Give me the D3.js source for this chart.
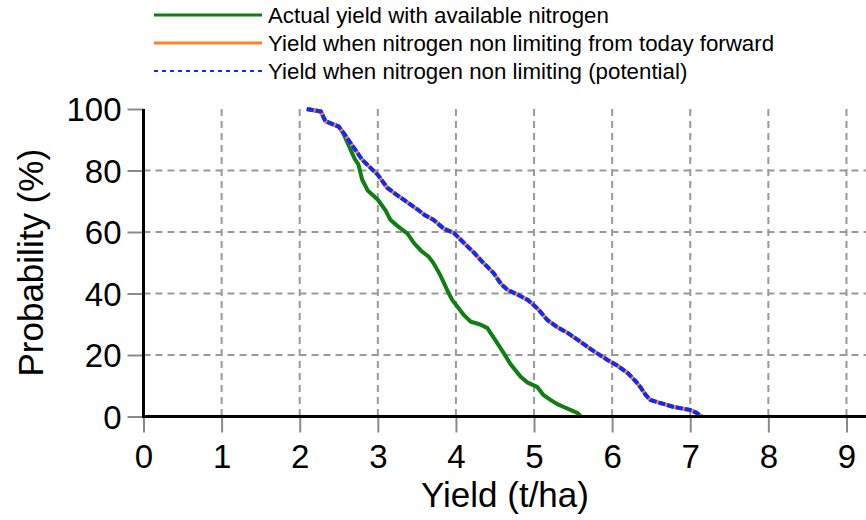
<!DOCTYPE html>
<html lang="en">
  <head>
    <meta charset="UTF-8" />
    <title>Yield probability</title>
    <script src="https://d3js.org/d3.v7.min.js"></script>
    <style>
      body {
        margin: 0;
        padding: 0;
        background: #ffffff;
        font-family: "Liberation Sans", Arial, sans-serif;
      }
      .grid line {
        stroke: #9a9a9a;
        stroke-width: 2;
        stroke-dasharray: 7, 5;
      }
    </style>
  </head>
  <body>
    <div id="chart"></div>
    <script>
      const width = 866;
      const height = 520;

      // yield (t/ha) vs probability of exceeding (%)
      const actualYield = [2.09, 2.27, 2.33, 2.5, 2.56, 2.63, 2.7, 2.75, 2.8, 2.87, 3.0, 3.1, 3.16, 3.25, 3.38, 3.46, 3.55, 3.65, 3.71, 3.8, 3.89, 3.95, 4.02, 4.1, 4.19, 4.3, 4.4, 4.5, 4.61, 4.7, 4.83, 4.92, 5.04, 5.12, 5.21, 5.3, 5.38, 5.48, 5.56, 5.6];
      const actualProb = [100, 99.2, 96, 94.3, 92, 88, 84, 82, 77, 73.5, 70.5, 67, 64, 62, 59.5, 56.5, 54, 52, 50, 46, 41, 38, 35.7, 33, 30.8, 30, 28.8, 25, 20.7, 17, 12.9, 11, 9.6, 7, 5.4, 4, 3.1, 2, 1.1, 0];

      const todayYield = [2.09, 2.27, 2.33, 2.5, 2.56, 2.69, 2.8, 2.93, 3.0, 3.12, 3.22, 3.33, 3.51, 3.6, 3.71, 3.85, 3.97, 4.1, 4.23, 4.35, 4.48, 4.58, 4.66, 4.8, 4.92, 5.05, 5.17, 5.3, 5.43, 5.6, 5.75, 5.94, 6.07, 6.2, 6.3, 6.36, 6.43, 6.49, 6.6, 6.79, 7.0, 7.08, 7.13, 7.15];
      const todayProb = [100, 99.2, 96, 94.3, 92.3, 87.5, 83.5, 80.3, 78.6, 74.4, 72.5, 70.5, 67.3, 65.5, 64, 61, 59.8, 56.5, 53.3, 50, 46.7, 43, 41.2, 39.5, 37.9, 35, 31.4, 29, 27.2, 24.2, 21.5, 18.4, 16.5, 14.1, 11.5, 9.6, 7, 5.4, 4.5, 3.1, 2.1, 1.2, 0.3, 0];

      const potentialYield = [2.09, 2.27, 2.33, 2.5, 2.56, 2.69, 2.8, 2.93, 3.0, 3.12, 3.22, 3.33, 3.51, 3.6, 3.71, 3.85, 3.97, 4.1, 4.23, 4.35, 4.48, 4.58, 4.66, 4.8, 4.92, 5.05, 5.17, 5.3, 5.43, 5.6, 5.75, 5.94, 6.07, 6.2, 6.3, 6.36, 6.43, 6.49, 6.6, 6.79, 7.0, 7.08, 7.13, 7.15];
      const potentialProb = [100, 99.2, 96, 94.3, 92.3, 87.5, 83.5, 80.3, 78.6, 74.4, 72.5, 70.5, 67.3, 65.5, 64, 61, 59.8, 56.5, 53.3, 50, 46.7, 43, 41.2, 39.5, 37.9, 35, 31.4, 29, 27.2, 24.2, 21.5, 18.4, 16.5, 14.1, 11.5, 9.6, 7, 5.4, 4.5, 3.1, 2.1, 1.2, 0.3, 0];

      const xTicks = [0, 1, 2, 3, 4, 5, 6, 7, 8, 9];
      const yTicks = [0, 20, 40, 60, 80, 100];

      const seriesNames = [
        "Actual yield with available nitrogen",
        "Yield when nitrogen non limiting from today forward",
        "Yield when nitrogen non limiting (potential)",
      ];

      const series = [
        { name: seriesNames[0], color: "#0f7f12", dash: null, data: d3.zip(actualYield, actualProb) },
        { name: seriesNames[1], color: "#ff7f2a", dash: null, data: d3.zip(todayYield, todayProb) },
        { name: seriesNames[2], color: "#0a2cff", dash: "7,2", data: d3.zip(potentialYield, potentialProb) },
      ];

      const x = d3.scaleLinear().domain([0, 9.25]).range([143.5, 866]);
      const y = d3.scaleLinear().domain([0, 100]).range([416.5, 109]);

      const svg = d3
        .select("#chart")
        .append("svg")
        .attr("width", width)
        .attr("height", height);

      // grid
      const grid = svg.append("g").attr("class", "grid");
      grid
        .selectAll("line.v")
        .data(xTicks.filter((d) => d > 0))
        .enter()
        .append("line")
        .attr("class", "v")
        .attr("x1", (d) => x(d))
        .attr("x2", (d) => x(d))
        .attr("y1", y(100))
        .attr("y2", y(0));
      grid
        .selectAll("line.h")
        .data(yTicks.filter((d) => d > 0 && d < 100))
        .enter()
        .append("line")
        .attr("class", "h")
        .attr("x1", x(0))
        .attr("x2", width)
        .attr("y1", (d) => y(d))
        .attr("y2", (d) => y(d));

      // axes
      const xAxis = svg
        .append("g")
        .attr("transform", `translate(0,${y(0)})`)
        .call(d3.axisBottom(x).tickValues(xTicks).tickSize(16).tickPadding(12));
      const yAxis = svg
        .append("g")
        .attr("transform", `translate(${x(0)},0)`)
        .call(d3.axisLeft(y).tickValues(yTicks).tickSize(16).tickPadding(6));

      [xAxis, yAxis].forEach((g) => {
        g.select(".domain").remove();
        g.selectAll(".tick line").attr("stroke", "#8a8a8a").attr("stroke-width", 2);
        g.selectAll(".tick text")
          .attr("fill", "#000")
          .attr("font-family", "'Liberation Sans', Arial, sans-serif")
          .attr("font-size", 33);
      });
      yAxis.selectAll(".tick text").attr("dy", "0.36em");

      // series
      const line = d3
        .line()
        .x((d) => x(d[0]))
        .y((d) => y(d[1]));

      svg
        .selectAll("path.series")
        .data(series)
        .enter()
        .append("path")
        .attr("class", "series")
        .attr("d", (d) => line(d.data))
        .attr("fill", "none")
        .attr("stroke", (d) => d.color)
        .attr("stroke-width", 4)
        .attr("stroke-dasharray", (d) => d.dash);

      // black axis lines on top
      svg
        .append("line")
        .attr("x1", x(0))
        .attr("x2", x(0))
        .attr("y1", y(100))
        .attr("y2", y(0) + 1.5)
        .attr("stroke", "#000")
        .attr("stroke-width", 3);
      svg
        .append("line")
        .attr("x1", x(0))
        .attr("x2", width)
        .attr("y1", y(0))
        .attr("y2", y(0))
        .attr("stroke", "#000")
        .attr("stroke-width", 3);

      // axis titles
      svg
        .append("text")
        .attr("x", 505)
        .attr("y", 507)
        .attr("text-anchor", "middle")
        .attr("font-size", 35)
        .text("Yield (t/ha)");
      svg
        .append("text")
        .attr("transform", `translate(43,${(y(0) + y(100)) / 2}) rotate(-90)`)
        .attr("text-anchor", "middle")
        .attr("font-size", 35)
        .text("Probability (%)");

      // legend
      const legend = svg
        .selectAll("g.legend")
        .data(series)
        .enter()
        .append("g")
        .attr("class", "legend")
        .attr("transform", (d, i) => `translate(0,${15 + i * 28})`);
      legend
        .append("line")
        .attr("x1", 154)
        .attr("x2", 262)
        .attr("stroke", (d) => d.color)
        .attr("stroke-width", (d) => (d.dash ? 2 : 3))
        .attr("stroke-dasharray", (d) => (d.dash ? "4,4" : null));
      legend
        .append("text")
        .attr("x", 268)
        .attr("dy", "0.35em")
        .attr("font-size", 22.3)
        .text((d) => d.name);
    </script>
  </body>
</html>
